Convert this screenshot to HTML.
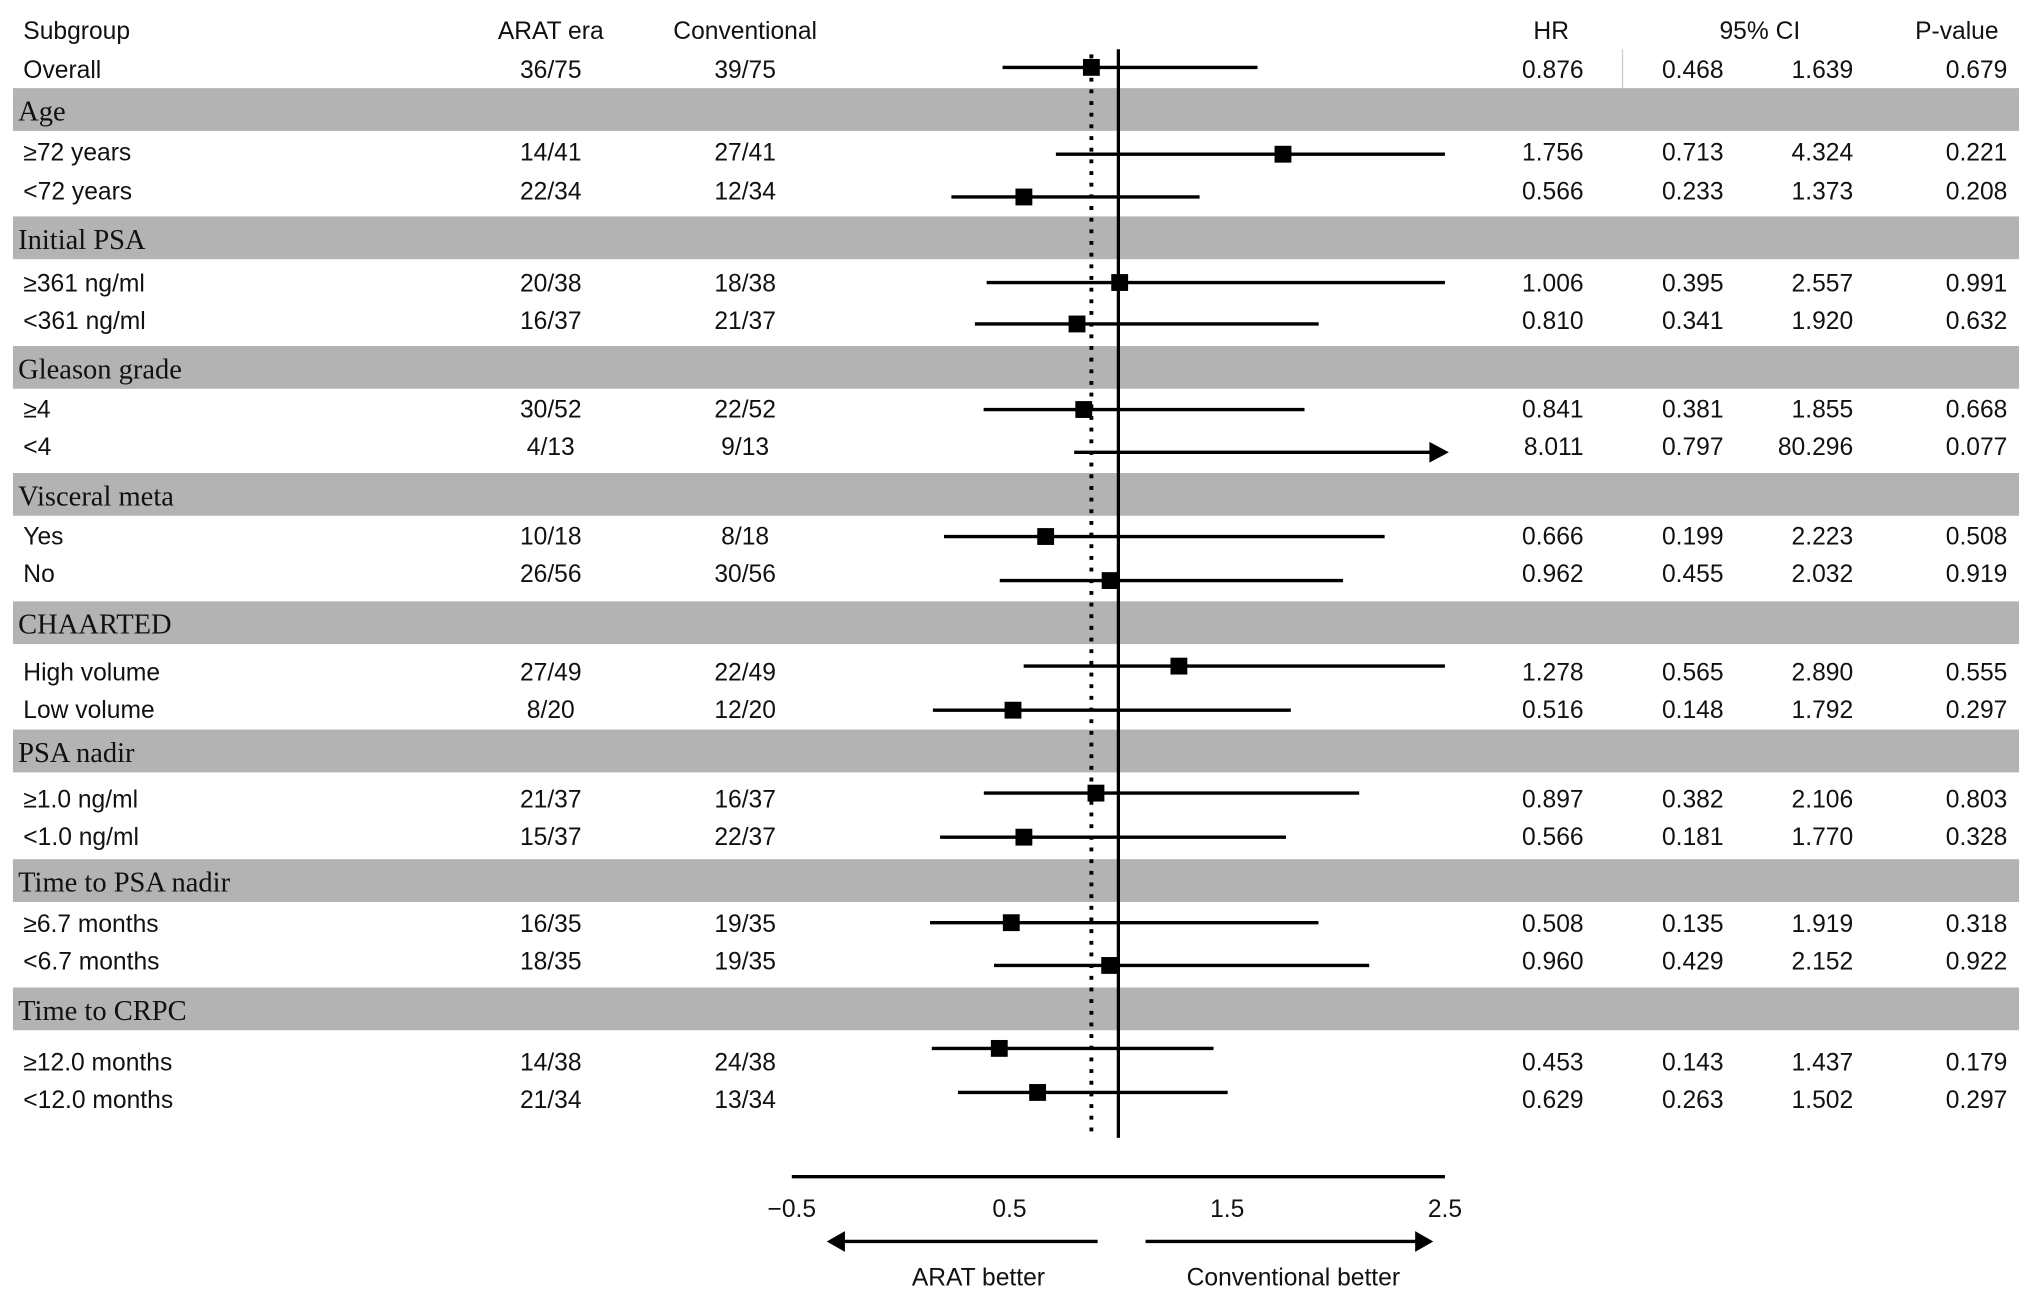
<!DOCTYPE html>
<html><head><meta charset="utf-8"><style>
html,body{margin:0;padding:0;background:#fff;}
svg{display:block;}
.t{font-family:"Liberation Sans",sans-serif;font-size:19px;fill:#111;}
.s{font-family:"Liberation Serif",serif;font-size:22px;fill:#111;}
</style></head><body>
<svg id="chart" width="2032" height="1298" viewBox="0 0 1568 1001.6" xmlns="http://www.w3.org/2000/svg">
<rect width="1568" height="1002" fill="#fff"/>
<g id="bands"></g><g id="rows"></g><g id="marks"></g><g id="axis"></g>
</svg>
<script>
const sections=["Age","Initial PSA","Gleason grade","Visceral meta","CHAARTED","PSA nadir","Time to PSA nadir","Time to CRPC"];
const labels=["Overall","≥72 years","<72 years","≥361 ng/ml","<361 ng/ml","≥4","<4","Yes","No","High volume","Low volume","≥1.0 ng/ml","<1.0 ng/ml","≥6.7 months","<6.7 months","≥12.0 months","<12.0 months"];
const arat=["36/75","14/41","22/34","20/38","16/37","30/52","4/13","10/18","26/56","27/49","8/20","21/37","15/37","16/35","18/35","14/38","21/34"];
const conv=["39/75","27/41","12/34","18/38","21/37","22/52","9/13","8/18","30/56","22/49","12/20","16/37","22/37","19/35","19/35","24/38","13/34"];
const hr=[0.876,1.756,0.566,1.006,0.810,0.841,8.011,0.666,0.962,1.278,0.516,0.897,0.566,0.508,0.960,0.453,0.629];
const ciLow=[0.468,0.713,0.233,0.395,0.341,0.381,0.797,0.199,0.455,0.565,0.148,0.382,0.181,0.135,0.429,0.143,0.263];
const ciHigh=[1.639,4.324,1.373,2.557,1.920,1.855,80.296,2.223,2.032,2.890,1.792,2.106,1.770,1.919,2.152,1.437,1.502];
const hrTxt=["0.876","1.756","0.566","1.006","0.810","0.841","8.011","0.666","0.962","1.278","0.516","0.897","0.566","0.508","0.960","0.453","0.629"];
const loTxt=["0.468","0.713","0.233","0.395","0.341","0.381","0.797","0.199","0.455","0.565","0.148","0.382","0.181","0.135","0.429","0.143","0.263"];
const hiTxt=["1.639","4.324","1.373","2.557","1.920","1.855","80.296","2.223","2.032","2.890","1.792","2.106","1.770","1.919","2.152","1.437","1.502"];
const pTxt=["0.679","0.221","0.208","0.991","0.632","0.668","0.077","0.508","0.919","0.555","0.297","0.803","0.328","0.318","0.922","0.179","0.297"];
const ticks=[-0.5,0.5,1.5,2.5];
const tickLabels=["−0.5","0.5","1.5","2.5"];
const overallHR=0.876;

const NS="http://www.w3.org/2000/svg";
const X0=611,X1=1115,VMIN=-0.5,VMAX=2.5;
function xs(v){return X0+(v-VMIN)/(VMAX-VMIN)*(X1-X0);}
function mk(tag,attrs,parent,text){const e=document.createElementNS(NS,tag);for(const k in attrs)e.setAttribute(k,attrs[k]);if(text!==undefined)e.textContent=text;parent.appendChild(e);return e;}
const bandsG=document.getElementById('bands'),rowsG=document.getElementById('rows'),marksG=document.getElementById('marks'),axisG=document.getElementById('axis');
const bandTop=[68,167,267,365,464,563,663,762];
const textY=[53,117,147,218,247,315,344,413,442,518,547,616,645,712,741,819,848];
const lineY=[52,119,152,218,250,316,349,414,448,514,548,612,646,712,745,809,843];

// header
[["Subgroup",18,"start"],["ARAT era",425,"middle"],["Conventional",575,"middle"],["HR",1197,"middle"],["95% CI",1358,"middle"],["P-value",1510,"middle"]].forEach(h=>{
  const e=mk('text',{x:h[1],y:30,class:'t','text-anchor':h[2]},rowsG,h[0]);
  
  
});
mk('line',{x1:1252,y1:38,x2:1252,y2:68,stroke:'#ccc','stroke-width':1},rowsG);

sections.forEach((s,i)=>{
  const r=mk('rect',{x:10,y:bandTop[i],width:1548,height:33,fill:'#b3b3b3'},bandsG);
  
  
  const t=mk('text',{x:14,y:bandTop[i]+25,class:'s'},bandsG,s);
  
  
});

labels.forEach((l,i)=>{
  const y=textY[i]+7;
  const cells=[[l,18,'start'],[arat[i],425,'middle'],[conv[i],575,'middle'],[hrTxt[i],1222,'end'],[loTxt[i],1330,'end'],[hiTxt[i],1430,'end'],[pTxt[i],1549,'end']];
  cells.forEach(c=>{
    const e=mk('text',{x:c[1],y:y,class:'t','text-anchor':c[2]},rowsG,c[0]);
    
    
  });
});

// reference lines
const ref=mk('line',{x1:xs(1),y1:38,x2:xs(1),y2:878,stroke:'#000','stroke-width':2.5},marksG);


const dot=mk('line',{x1:xs(overallHR),y1:42,x2:xs(overallHR),y2:876,stroke:'#000','stroke-width':3,'stroke-dasharray':'3 6'},marksG);



hr.forEach((v,i)=>{
  const y=lineY[i];
  const lo=Math.max(ciLow[i],VMIN),hi=Math.min(ciHigh[i],VMAX);
  const arrow=ciHigh[i]>5;
  const l=mk('line',{x1:xs(lo),y1:y,x2:arrow?xs(hi)-10:xs(hi),y2:y,stroke:'#000','stroke-width':2.6},marksG);
  
  
  if(arrow){
    const a=mk('polygon',{points:`${xs(hi)+3},${y} ${xs(hi)-12},${y-8} ${xs(hi)-12},${y+8}`,fill:'#000'},marksG);
    
    
  }
  if(v<=VMAX){
    const sq=mk('rect',{x:xs(v)-6.5,y:y-6.5,width:13,height:13,fill:'#000'},marksG);
    
    
  }
});

// axis
const ax=mk('line',{x1:xs(VMIN),y1:908,x2:xs(VMAX),y2:908,stroke:'#000','stroke-width':2.6},axisG);


ticks.forEach((t,i)=>{
  const e=mk('text',{x:xs(t),y:939,class:'t','text-anchor':'middle'},axisG,tickLabels[i]);
  
  
});
const la=mk('g',{},axisG);


mk('line',{x1:847,y1:958,x2:650,y2:958,stroke:'#000','stroke-width':2.6},la);
mk('polygon',{points:'638,958 652,950 652,966',fill:'#000'},la);
const ra=mk('g',{},axisG);


mk('line',{x1:884,y1:958,x2:1094,y2:958,stroke:'#000','stroke-width':2.6},ra);
mk('polygon',{points:'1106,958 1092,950 1092,966',fill:'#000'},ra);
const t1=mk('text',{x:755,y:992,class:'t','text-anchor':'middle'},axisG,'ARAT better');


const t2=mk('text',{x:998,y:992,class:'t','text-anchor':'middle'},axisG,'Conventional better');


</script>
</body></html>
